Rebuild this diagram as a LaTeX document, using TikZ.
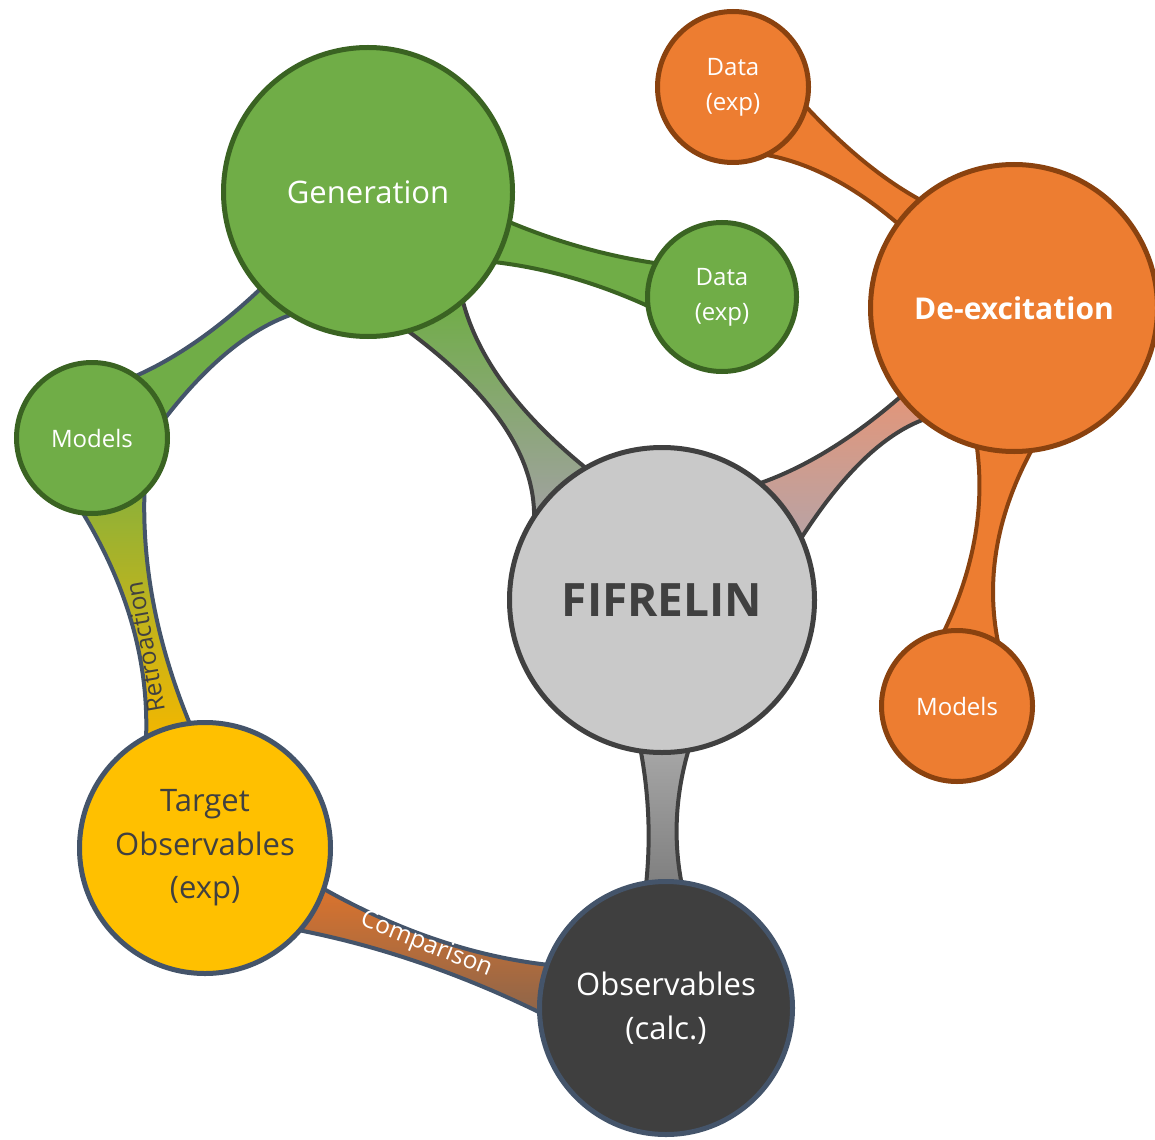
\documentclass[tikz,border=0pt]{standalone}
\usepackage{fontspec}
\setmainfont{Open Sans}
\usetikzlibrary{backgrounds,calc}

\definecolor{grfill}{HTML}{70AD47}
\definecolor{grline}{HTML}{3A6322}
\definecolor{orfill}{HTML}{ED7D31}
\definecolor{orline}{HTML}{8A420F}
\definecolor{fifill}{HTML}{C9C9C9}
\definecolor{dkline}{HTML}{404040}
\definecolor{slate}{HTML}{44546A}
\definecolor{gold}{HTML}{FFC000}
\definecolor{obsfill}{HTML}{3F3F3F}
\definecolor{salmon}{HTML}{E2967A}
\definecolor{mauve}{HTML}{B8A3A5}

\newcommand{\txtL}{\fontsize{31}{43.5}\selectfont}
\newcommand{\txtS}{\fontsize{24}{35}\selectfont}
\newcommand{\txtN}{\fontsize{24.5}{30}\selectfont}

\tikzstyle{ball}=[circle, draw, line width=5pt, inner sep=0pt, outer sep=0pt, align=center]
\tikzstyle{gball}=[ball, fill=grfill, draw=grline, text=white]
\tikzstyle{oball}=[ball, fill=orfill, draw=orline, text=white]
\tikzstyle{neck}=[line width=4pt, line join=round]
% quadratic side of a neck, #1 is its control point
\tikzset{bow/.style={to path={.. controls ($(\tikztostart)!2/3!(#1)$) and ($(\tikztotarget)!2/3!(#1)$) .. (\tikztotarget)}}}

\begin{document}
\begin{tikzpicture}[x=1pt, y=-1pt]
    \useasboundingbox (0,0) rectangle (1155,1139);

    % circles
    \node[gball, minimum size=289pt, font=\txtL] (gen) at (368,192) {Generation};
    \node[gball, minimum size=149pt, font=\txtS] (gdat) at (722,297) {Data\\(exp)};
    \node[gball, minimum size=151pt, font=\txtS] (gmod) at (92,438) {Models};
    \node[oball, minimum size=151pt, font=\txtS] (odat) at (733,87) {Data\\(exp)};
    \node[oball, minimum size=287pt, font=\fontsize{30}{36}\selectfont\bfseries] (dex) at (1014,308) {De-excitation};
    \node[oball, minimum size=151pt, font=\txtS] (omod) at (957,706) {Models};
    \node[ball, minimum size=305pt, fill=fifill, draw=dkline, text=dkline,
        font=\fontsize{46}{50}\selectfont\bfseries] (fif) at (662,600) {FIFRELIN};
    \node[ball, minimum size=251pt, fill=gold, draw=slate, text=dkline, font=\txtL] (tgt) at (205,848) {Target\\Observables\\(exp)};
    \node[ball, minimum size=253pt, fill=obsfill, draw=slate, text=white, font=\txtL] (obs) at (666,1008) {Observables\\(calc.)};

    % necks between the circles
    \begin{scope}[on background layer]
        \draw[neck, draw=grline, fill=grfill] (gen.-12) to[bow={581,252}] (gdat.153)
            -- (gdat.187) to[bow={571,271}] (gen.-29) -- cycle;
        \draw[neck, draw=slate, fill=grfill] (gen.222) to[bow={197,349}] (gmod.55)
            -- (gmod.15) to[bow={228,337}] (gen.238) -- cycle;
        \draw[neck, draw=dkline, top color=grfill, bottom color=black!5!gray!70] (gen.-74) to[bow={535,425}] (fif.147)
            -- (fif.120) to[bow={485,386}] (gen.-49) -- cycle;
        \draw[neck, draw=dkline, top color=salmon, bottom color=mauve] (fif.50) to[bow={829,459}] (dex.218)
            -- (dex.231) to[bow={863,442}] (fif.24) -- cycle;
        \draw[neck, draw=orline, fill=orfill] (odat.-15) to[bow={864,169}] (dex.131)
            -- (dex.144) to[bow={832,167}] (odat.-64) -- cycle;
        \draw[neck, draw=orline, fill=orfill] (dex.-105) to[bow={989,538}] (omod.100)
            -- (omod.57) to[bow={979,548}] (dex.-83) -- cycle;
        \draw[neck, draw=dkline, top color=gray!70, bottom color=gray] (fif.-98) to[bow={653,817}] (obs.99)
            -- (obs.83) to[bow={669,817}] (fif.-80) -- cycle;
        \draw[neck, draw=slate, top color=grfill!80!gold, bottom color=gold!95!black] (gmod.-97) to[bow={150,624}] (tgt.118)
            -- (tgt.97) to[bow={141,605}] (gmod.-46) -- cycle;
        \draw[neck, draw=slate, top color=orfill!92!black, bottom color=orfill!45!gray!80!black] (tgt.-19) to[bow={436,952}] (obs.160)
            -- (obs.182) to[bow={420,954}] (tgt.-41) -- cycle;
    \end{scope}

    % labels on the necks
    \node[rotate=100, font=\txtN, text=dkline] (retro) at (145,647) {Retroaction};
    \node[rotate=-21.7, font=\txtN, text=white] (comp) at (426,945) {Comparison};
\end{tikzpicture}
\end{document}
